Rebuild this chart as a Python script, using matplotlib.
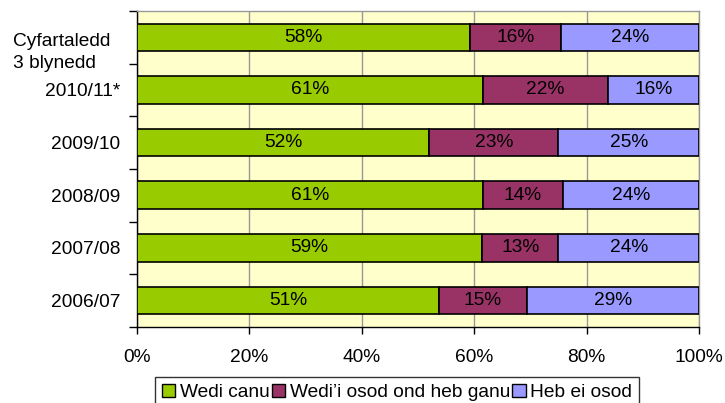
import numpy as np
import matplotlib.pyplot as plt
import matplotlib.transforms as mtransforms

plt.rcParams['font.family'] = ['Liberation Sans', 'DejaVu Sans']

# Categories from bottom to top
categories = ['2006/07', '2007/08', '2008/09', '2009/10', '2010/11*', 'Cyfartaledd\n3 blynedd']
wedi_canu = [51, 59, 61, 52, 61, 58]
wedi_osod = [15, 13, 14, 23, 22, 16]
heb_osod = [29, 24, 24, 25, 16, 24]
series_names = ['Wedi canu', 'Wedi\u2019i osod ond heb ganu', 'Heb ei osod']
colors = ['#99CC00', '#993366', '#9999FF']

FS = 13.8

data = np.array([wedi_canu, wedi_osod, heb_osod], dtype=float)
shares = data / data.sum(axis=0) * 100

fig = plt.figure(figsize=(7.25, 4.03), dpi=100)
ax = fig.add_axes([0.189, 0.189, 0.775, 0.784])
ax.set_facecolor('#FFFFCC')

y = np.arange(len(categories))
left = np.zeros(len(categories))
for i in range(3):
    bars = ax.barh(y, shares[i], left=left, height=0.52, color=colors[i],
                   edgecolor='black', linewidth=1.2, label=series_names[i], zorder=3)
    for j, b in enumerate(bars):
        ax.text(left[j] + shares[i][j] / 2, y[j], f'{int(data[i][j])}%',
                ha='center', va='center', fontsize=FS, zorder=4)
    left += shares[i]

ax.set_xlim(0, 100)
ax.set_ylim(-0.5, len(categories) - 0.5)

# x axis
ax.set_xticks([0, 20, 40, 60, 80, 100])
ax.set_xticklabels(['0%', '20%', '40%', '60%', '80%', '100%'], fontsize=FS)
ax.xaxis.grid(True, color='#999999', linewidth=1, zorder=0)
ax.tick_params(axis='x', direction='out', length=5, width=1, pad=11)

# y axis: ticks at boundaries, labels at centres
ax.set_yticks(np.arange(-0.5, len(categories), 1))
ax.set_yticklabels([])
ax.set_yticks(y, minor=True)
ax.set_yticklabels(categories, minor=True, fontsize=FS)
ax.tick_params(axis='y', which='major', direction='out', length=6, width=1)
ax.tick_params(axis='y', which='minor', length=0, pad=12)

for lbl in ax.get_yticklabels(minor=True):
    if lbl.get_text().startswith('Cyfartaledd'):
        lbl.set_multialignment('left')
        lbl.set_linespacing(1.4)
        lbl.set_transform(lbl.get_transform() +
                          mtransforms.ScaledTranslation(-10 / 100, -11 / 100, fig.dpi_scale_trans))

ax.spines['left'].set_color('black')
ax.spines['bottom'].set_color('black')
ax.spines['top'].set_color('#999999')
ax.spines['right'].set_color('#999999')
for s in ax.spines.values():
    s.set_linewidth(1)

leg = fig.legend(loc='upper left', bbox_to_anchor=(155 / 725, 1 - 377 / 403), ncol=3,
                 fontsize=FS, frameon=True, fancybox=False, edgecolor='black',
                 handlelength=0.7, handleheight=0.7, handletextpad=0.25,
                 columnspacing=0.1, borderpad=0.35, borderaxespad=0)
leg.get_frame().set_linewidth(1)
for h in leg.legend_handles:
    h.set_linewidth(1)

fig.savefig('out.png', dpi=100)
